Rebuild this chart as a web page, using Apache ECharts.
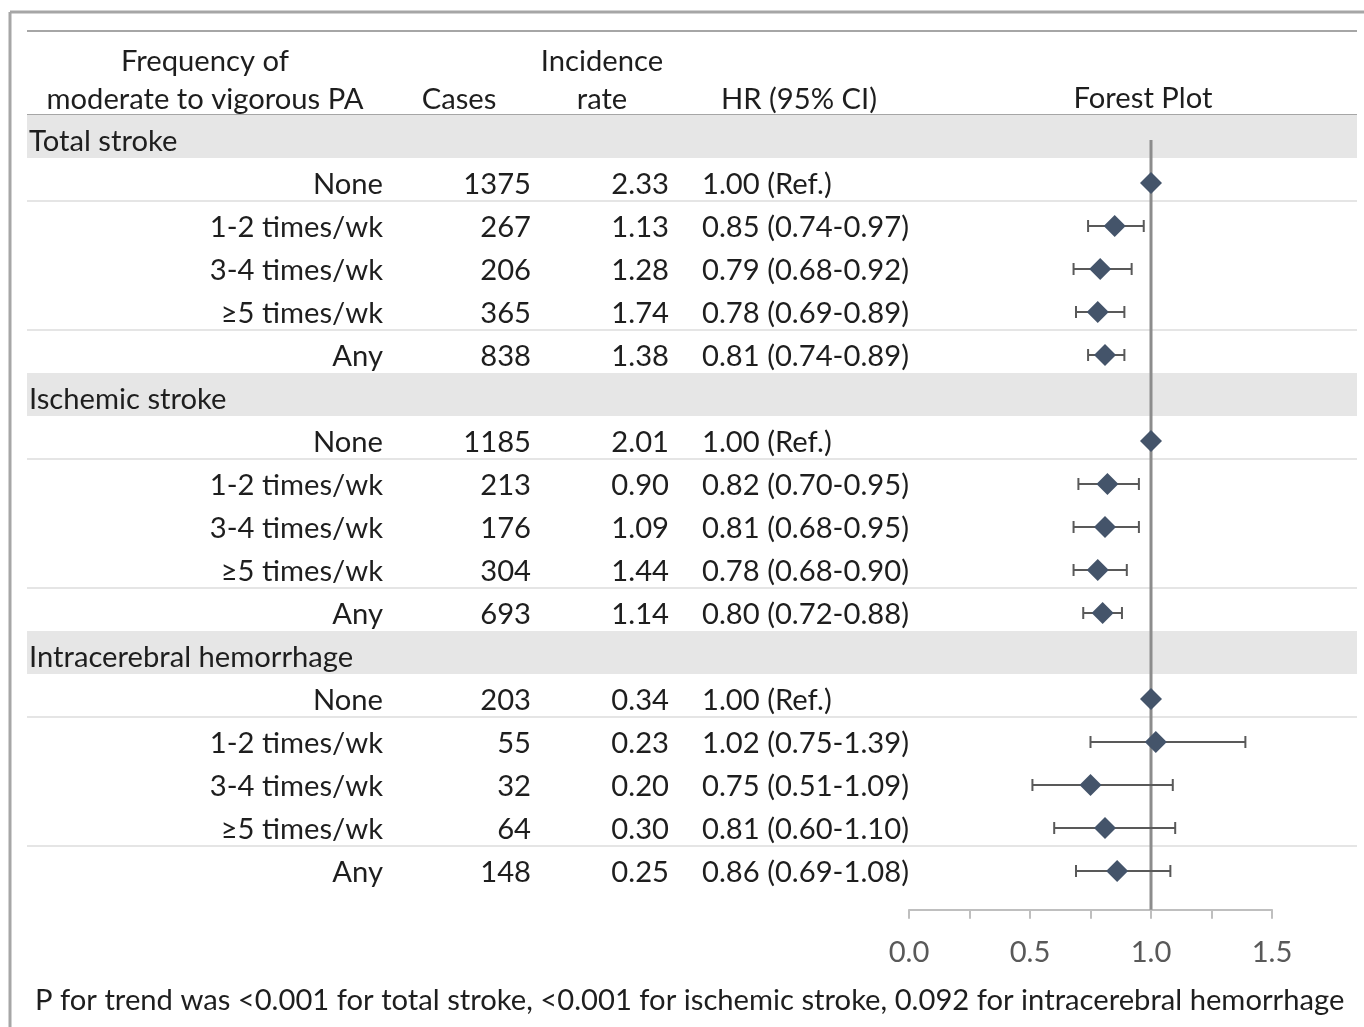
<!DOCTYPE html>
<html>
<head>
<meta charset="utf-8">
<script src="https://cdn.jsdelivr.net/npm/echarts@6/dist/echarts.min.js"></script>
<style>
  html, body { margin: 0; padding: 0; background: #fff; }
  #main { width: 1364px; height: 1027px; }
</style>
</head>
<body>
<div id="main"></div>
<script>
// data
const groups = ['Total stroke', 'Ischemic stroke', 'Intracerebral hemorrhage'];
const levels = ['None', '1-2 times/wk', '3-4 times/wk', '≥5 times/wk', 'Any'];
const cases = [
  [1375, 267, 206, 365, 838],
  [1185, 213, 176, 304, 693],
  [203, 55, 32, 64, 148]
];
const incidence = [
  ['2.33', '1.13', '1.28', '1.74', '1.38'],
  ['2.01', '0.90', '1.09', '1.44', '1.14'],
  ['0.34', '0.23', '0.20', '0.30', '0.25']
];
const hr = [
  [1.00, 0.85, 0.79, 0.78, 0.81],
  [1.00, 0.82, 0.81, 0.78, 0.80],
  [1.00, 1.02, 0.75, 0.81, 0.86]
];
const ciLow = [
  [null, 0.74, 0.68, 0.69, 0.74],
  [null, 0.70, 0.68, 0.68, 0.72],
  [null, 0.75, 0.51, 0.60, 0.69]
];
const ciHigh = [
  [null, 0.97, 0.92, 0.89, 0.89],
  [null, 0.95, 0.95, 0.90, 0.88],
  [null, 1.39, 1.09, 1.10, 1.08]
];
const xTicks = [0, 0.5, 1.0, 1.5];
const footnote = 'P for trend was <0.001 for total stroke, <0.001 for ischemic stroke, 0.092 for intracerebral hemorrhage';

const FONT = 'Lato';
const FS = 29.2;
const TXT = '#1e1e1e';
const DY = 2; // text baseline nudge

// flatten into table rows
const rows = [];
groups.forEach(function (g, gi) {
  rows.push({ kind: 'group', text: g });
  levels.forEach(function (lv, li) {
    const lo = ciLow[gi][li], hi = ciHigh[gi][li];
    rows.push({
      kind: 'row', label: lv, cases: cases[gi][li], inc: incidence[gi][li],
      hr: hr[gi][li], lo: lo, hi: hi, li: li,
      hrText: lo == null ? hr[gi][li].toFixed(2) + ' (Ref.)'
        : hr[gi][li].toFixed(2) + ' (' + lo.toFixed(2) + '-' + hi.toFixed(2) + ')'
    });
  });
});

const pointData = [], barData = [];
rows.forEach(function (r, i) {
  if (r.kind !== 'row') return;
  pointData.push([r.hr, i]);
  if (r.lo != null) barData.push([r.lo, r.hi, i]);
});

const chart = echarts.init(document.getElementById('main'));

function txt(x, y, s, align) {
  return {
    type: 'text', x: x, y: y + DY,
    style: { text: s, fill: TXT, font: FS + 'px ' + FONT, align: align, verticalAlign: 'middle' }
  };
}

chart.setOption({
  animation: false,
  backgroundColor: '#fff',
  grid: { left: 909, width: 363, top: 118.5, height: 791.2 },
  xAxis: {
    type: 'value', min: 0, max: 1.5, interval: 0.25, position: 'bottom',
    axisLine: { onZero: false, lineStyle: { color: '#bfbfbf', width: 2 } },
    axisTick: { show: true, length: 9, lineStyle: { color: '#bfbfbf', width: 2 } },
    splitLine: { show: false },
    axisLabel: {
      margin: 28, color: '#595959', fontFamily: FONT, fontSize: FS,
      formatter: function (v) {
        return xTicks.some(function (t) { return Math.abs(t - v) < 1e-6; }) ? v.toFixed(1) : '';
      }
    }
  },
  yAxis: { type: 'value', inverse: true, min: -0.5, max: 17.9, show: false },
  graphic: [
    { type: 'line', shape: { x1: 10, y1: 12, x2: 1364, y2: 12 }, style: { stroke: '#a6a6a6', lineWidth: 3 } },
    { type: 'line', shape: { x1: 10, y1: 12, x2: 10, y2: 1027 }, style: { stroke: '#a6a6a6', lineWidth: 3 } },
    { type: 'line', shape: { x1: 27, y1: 31, x2: 1357, y2: 31 }, style: { stroke: '#a6a6a6', lineWidth: 2 } },
    { type: 'line', shape: { x1: 27, y1: 115, x2: 1357, y2: 115 }, style: { stroke: '#a6a6a6', lineWidth: 2 } },
    txt(205, 60, 'Frequency of', 'center'),
    txt(205, 98, 'moderate to vigorous PA', 'center'),
    txt(459, 98, 'Cases', 'center'),
    txt(602, 60, 'Incidence', 'center'),
    txt(602, 98, 'rate', 'center'),
    txt(799, 98, 'HR (95% CI)', 'center'),
    txt(1143, 97, 'Forest Plot', 'center'),
    txt(35, 999, footnote, 'left')
  ],
  series: [
    {
      // grey section bands and thin row separators
      type: 'custom', clip: false, z: 0, silent: true,
      data: rows.map(function (r, i) { return [0, i]; }),
      renderItem: function (params, api) {
        const r = rows[params.dataIndex];
        const i = api.value(1);
        const yTop = api.coord([0, i - 0.58])[1];
        const yBot = api.coord([0, i + 0.42])[1];
        if (r.kind === 'group') {
          return { type: 'rect', shape: { x: 27, y: yTop, width: 1330, height: yBot - yTop }, style: { fill: '#e6e6e6' } };
        }
        if (r.li === 0 || r.li === 3) {
          return { type: 'line', shape: { x1: 27, y1: yBot, x2: 1357, y2: yBot }, style: { stroke: '#dcdcdc', lineWidth: 1.5 } };
        }
        return null;
      }
    },
    {
      // table text
      type: 'custom', clip: false, z: 5, silent: true,
      data: rows.map(function (r, i) { return [0, i]; }),
      renderItem: function (params, api) {
        const r = rows[params.dataIndex];
        const y = api.coord([0, api.value(1)])[1];
        if (r.kind === 'group') return txt(29, y, r.text, 'left');
        return {
          type: 'group',
          children: [
            txt(383, y, r.label, 'right'),
            txt(531, y, String(r.cases), 'right'),
            txt(669, y, r.inc, 'right'),
            txt(702, y, r.hrText, 'left')
          ]
        };
      }
    },
    {
      // reference line at HR = 1
      type: 'line', z: 2, symbol: 'none', silent: true,
      data: [[1, 0], [1, 17.9]],
      lineStyle: { color: '#8c8c8c', width: 3 }
    },
    {
      // confidence intervals
      type: 'custom', z: 3, clip: false, silent: true,
      data: barData,
      renderItem: function (params, api) {
        const a = api.coord([api.value(0), api.value(2)]);
        const b = api.coord([api.value(1), api.value(2)]);
        const st = { stroke: '#595959', lineWidth: 2 };
        return {
          type: 'group',
          children: [
            { type: 'line', shape: { x1: a[0], y1: a[1], x2: b[0], y2: b[1] }, style: st },
            { type: 'line', shape: { x1: a[0], y1: a[1] - 6, x2: a[0], y2: a[1] + 6 }, style: st },
            { type: 'line', shape: { x1: b[0], y1: b[1] - 6, x2: b[0], y2: b[1] + 6 }, style: st }
          ]
        };
      }
    },
    {
      type: 'scatter', z: 4, silent: true,
      symbol: 'diamond', symbolSize: [22, 22],
      itemStyle: { color: '#44546a', opacity: 1 },
      data: pointData
    }
  ]
});
</script>
</body>
</html>
